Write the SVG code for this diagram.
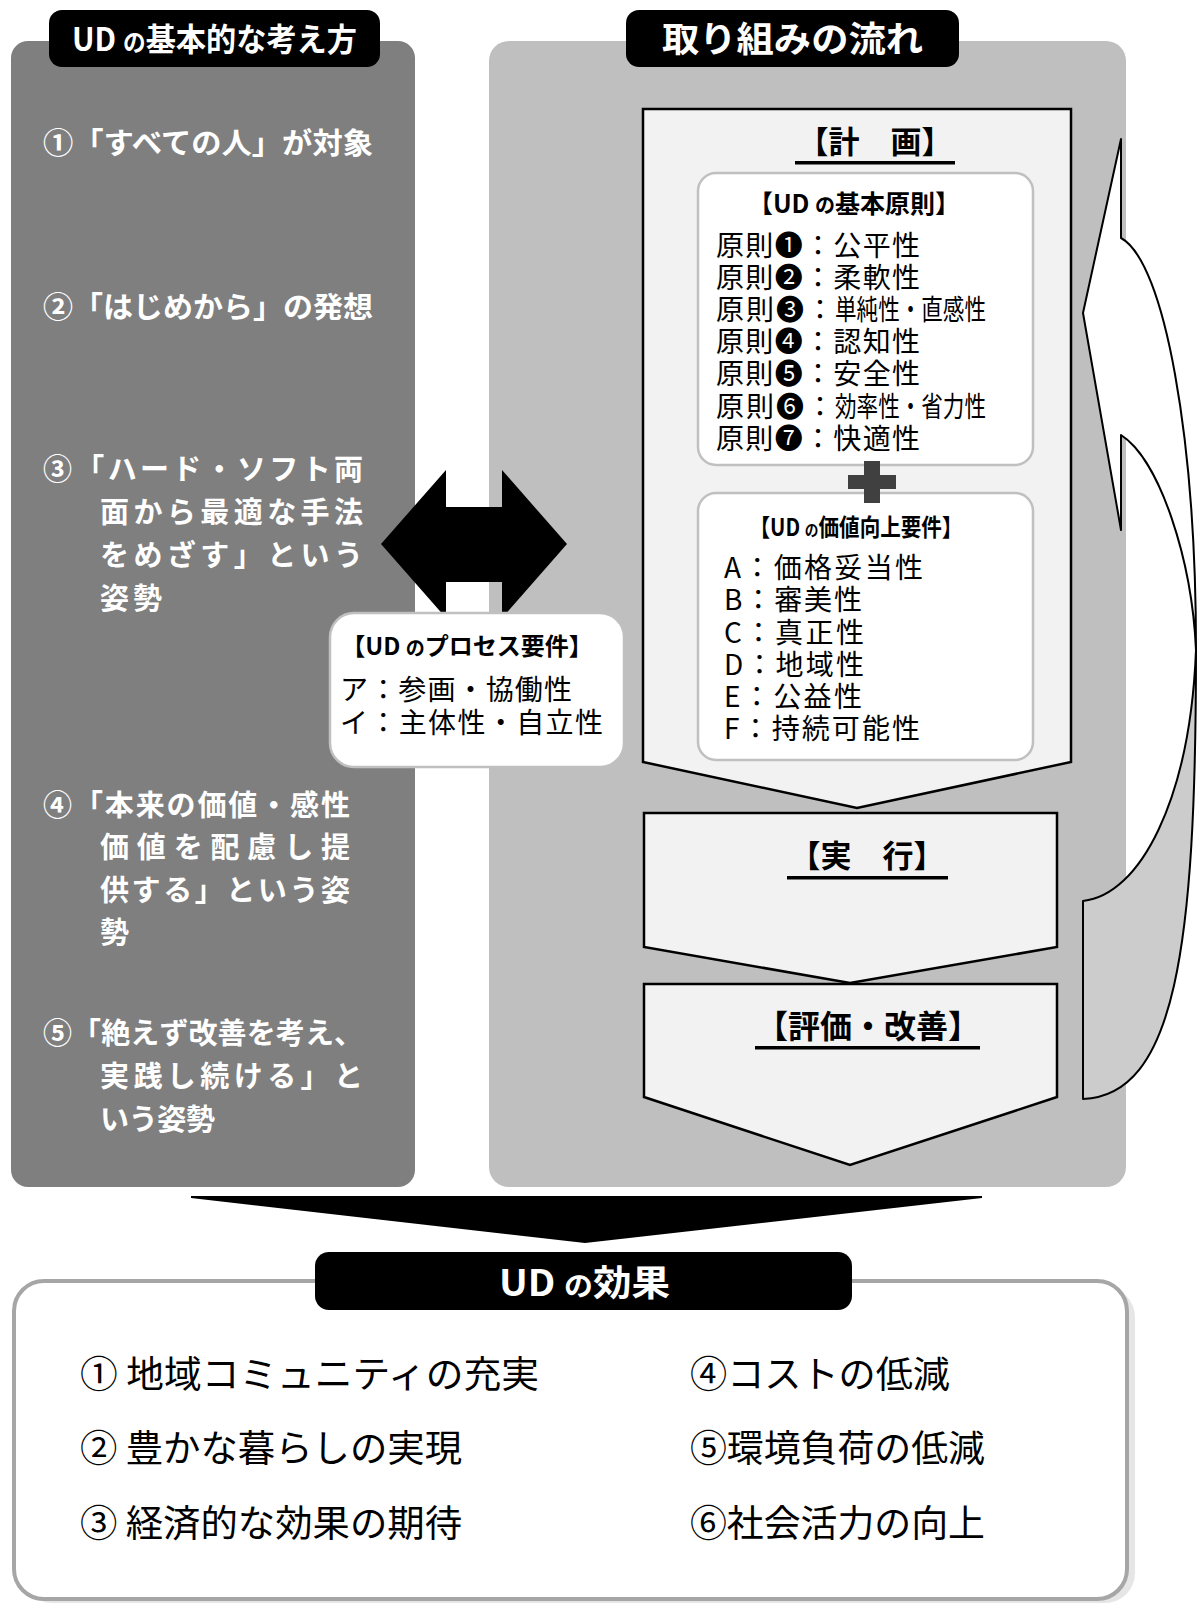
<svg xmlns="http://www.w3.org/2000/svg" width="1198" height="1603" viewBox="0 0 1198 1603">
<style>
text{font-family:"Noto Sans CJK JP","Noto Sans",sans-serif;}
.wb{fill:#ffffff;font-weight:700;}
.lt{fill:#ffffff;font-weight:700;font-size:29px;}
.kb{fill:#000000;font-weight:700;}
.kr{fill:#000000;font-weight:400;}
.pent{fill:#f2f2f2;stroke:#000000;stroke-width:2.5;stroke-linejoin:miter;}
.inner{fill:#ffffff;stroke:#c0c0c0;stroke-width:2.5;}
.ul{fill:#000000;}
.lab{fill:#000000;}
</style>
<rect width="1198" height="1603" fill="#ffffff"/>

<g id="panel-left">
<rect x="11" y="41" width="404" height="1146" rx="17" fill="#7f7f7f"/>
</g>
<g id="panel-right">
<rect x="489" y="41" width="637" height="1146" rx="20" fill="#bfbfbf"/>
</g>

<g id="connectors">
<polygon id="arrow-double" points="381,544 446,470 446,507 502,507 502,470 567,544 502,618 502,582 446,582 446,618" fill="#000000"/>
<g id="arrow-cycle" stroke="#000000" stroke-width="2" stroke-linejoin="round">
<path d="M1196,650 C1190,800 1140,895 1083,901 L1083,1099 C1175,1095 1196,950 1196,650 Z" fill="#cccccc"/>
<path d="M1121,139 L1083,313 L1121,530 L1121,435 C1160,460 1192,560 1196,650 C1196,440 1165,262 1121,238 Z" fill="#ffffff"/>
</g>
<polygon id="arrow-down" points="191,1196 982,1196 982,1198 585,1243 191,1198" fill="#000000"/>
</g>

<g id="label-left">
<rect class="lab" x="49" y="10" width="331" height="57" rx="13"/>
<text class="wb" x="72" y="51" font-size="32" textLength="285" lengthAdjust="spacingAndGlyphs">UD <tspan font-size="24">の</tspan>基本的な考え方</text>
</g>
<g id="label-right">
<rect class="lab" x="626" y="10" width="333" height="57" rx="13"/>
<text class="wb" x="662" y="52" font-size="35" textLength="261" lengthAdjust="spacingAndGlyphs">取り組みの流れ</text>
</g>

<g id="item-1">
<text class="lt" x="43" y="154" textLength="330" lengthAdjust="spacingAndGlyphs">①「すべての人」が対象</text>
</g>
<g id="item-2">
<text class="lt" x="43" y="318" textLength="330" lengthAdjust="spacingAndGlyphs">②「はじめから」の発想</text>
</g>
<g id="item-3">
<text class="lt" x="43" y="480" textLength="320">③「ハード・ソフト両</text>
<text class="lt" x="100" y="523" textLength="263">面から最適な手法</text>
<text class="lt" x="100" y="566" textLength="263">をめざす」という</text>
<text class="lt" x="100" y="609" textLength="62">姿勢</text>
</g>
<g id="item-4">
<text class="lt" x="43" y="816" textLength="307">④「本来の価値・感性</text>
<text class="lt" x="100" y="858" textLength="250">価値を配慮し提</text>
<text class="lt" x="100" y="901" textLength="250">供する」という姿</text>
<text class="lt" x="100" y="943">勢</text>
</g>
<g id="item-5">
<text class="lt" x="43" y="1044" textLength="320">⑤「絶えず改善を考え、</text>
<text class="lt" x="100" y="1087" textLength="263">実践し続ける」と</text>
<text class="lt" x="100" y="1130" textLength="115">いう姿勢</text>
</g>

<g id="node-plan">
<polygon class="pent" points="643,109 1071,109 1071,762 857,808 643,762"/>
<text class="kb" x="875" y="153" font-size="31" text-anchor="middle">【計　画】</text>
<rect class="ul" x="795" y="161" width="160" height="3.5"/>
</g>

<g id="node-principles">
<rect class="inner" x="698" y="173" width="335" height="292" rx="18"/>
<text class="kb" x="854" y="213" font-size="25" text-anchor="middle">【UD <tspan font-size="20">の</tspan>基本原則】</text>
<text class="kr" x="716" y="256" font-size="28" textLength="204">原則❶：公平性</text>
<text class="kr" x="716" y="288" font-size="28" textLength="204">原則❷：柔軟性</text>
<text class="kr" x="716" y="320" font-size="28" textLength="118">原則❸：</text>
<text class="kr" x="835" y="320" font-size="28" textLength="151" lengthAdjust="spacingAndGlyphs">単純性・直感性</text>
<text class="kr" x="716" y="352" font-size="28" textLength="204">原則❹：認知性</text>
<text class="kr" x="716" y="384" font-size="28" textLength="204">原則❺：安全性</text>
<text class="kr" x="716" y="417" font-size="28" textLength="118">原則❻：</text>
<text class="kr" x="835" y="417" font-size="28" textLength="151" lengthAdjust="spacingAndGlyphs">効率性・省力性</text>
<text class="kr" x="716" y="449" font-size="28" textLength="204">原則❼：快適性</text>
</g>

<g id="node-value">
<rect class="inner" x="698" y="493" width="335" height="267" rx="18"/>
<text class="kb" x="856" y="536" font-size="24" text-anchor="middle" textLength="213" lengthAdjust="spacingAndGlyphs">【UD <tspan font-size="16">の</tspan>価値向上要件】</text>
<text class="kr" x="724" y="578" font-size="28" textLength="199">A：価格妥当性</text>
<text class="kr" x="724" y="610" font-size="28" textLength="138">B：審美性</text>
<text class="kr" x="724" y="643" font-size="28" textLength="140">C：真正性</text>
<text class="kr" x="724" y="675" font-size="28" textLength="140">D：地域性</text>
<text class="kr" x="724" y="707" font-size="28" textLength="138">E：公益性</text>
<text class="kr" x="724" y="739" font-size="28" textLength="196">F：持続可能性</text>
</g>

<g id="plus" fill="#404040">
<rect x="864" y="461" width="16" height="42"/>
<rect x="848" y="475" width="48" height="14"/>
</g>

<g id="node-process">
<rect x="330" y="613" width="294" height="154" rx="24" fill="#ffffff" stroke="#c0c0c0" stroke-width="2.5"/>
<text class="kb" x="467" y="655" font-size="24" text-anchor="middle">【UD <tspan font-size="19">の</tspan>プロセス要件】</text>
<text class="kr" x="340" y="700" font-size="28" textLength="232">ア：参画・協働性</text>
<text class="kr" x="340" y="733" font-size="28" textLength="263">イ：主体性・自立性</text>
</g>

<g id="node-do">
<polygon class="pent" points="644,813 1057,813 1057,947 850,983 644,947"/>
<text class="kb" x="867" y="867" font-size="31" text-anchor="middle">【実　行】</text>
<rect class="ul" x="787" y="876" width="161" height="3.5"/>
</g>

<g id="node-eval">
<polygon class="pent" points="644,984 1057,984 1057,1097 850,1165 644,1097"/>
<text class="kb" x="868" y="1038" font-size="32" text-anchor="middle">【評価・改善】</text>
<rect class="ul" x="755" y="1046" width="225" height="3.5"/>
</g>

<g id="node-effects">
<rect x="22" y="1287" width="1113" height="316" rx="30" fill="#e6e6e6"/>
<rect x="14" y="1281" width="1113" height="318" rx="30" fill="#ffffff" stroke="#a6a6a6" stroke-width="4"/>
<rect class="lab" x="315" y="1252" width="537" height="58" rx="14"/>
<text class="wb" x="499" y="1296" font-size="36" textLength="171" lengthAdjust="spacingAndGlyphs">UD <tspan font-size="27">の</tspan>効果</text>
<text class="kr" x="80" y="1388" font-size="37" textLength="459" lengthAdjust="spacingAndGlyphs">① 地域コミュニティの充実</text>
<text class="kr" x="80" y="1462" font-size="37" textLength="382" lengthAdjust="spacingAndGlyphs">② 豊かな暮らしの実現</text>
<text class="kr" x="80" y="1537" font-size="37" textLength="382" lengthAdjust="spacingAndGlyphs">③ 経済的な効果の期待</text>
<text class="kr" x="690" y="1388" font-size="37" textLength="260" lengthAdjust="spacingAndGlyphs">④コストの低減</text>
<text class="kr" x="690" y="1462" font-size="37" textLength="295" lengthAdjust="spacingAndGlyphs">⑤環境負荷の低減</text>
<text class="kr" x="690" y="1537" font-size="37" textLength="295" lengthAdjust="spacingAndGlyphs">⑥社会活力の向上</text>
</g>
</svg>
